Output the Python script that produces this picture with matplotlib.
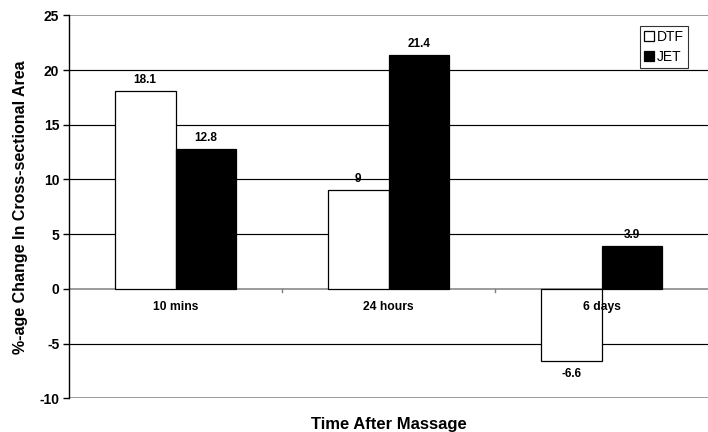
import matplotlib.pyplot as plt
import numpy as np

plt.rcParams['font.family'] = ['Liberation Sans', 'DejaVu Sans']

categories = ['10 mins', '24 hours', '6 days']
dtf = [18.1, 9, -6.6]
jet = [12.8, 21.4, 3.9]
dtf_labels = ['18.1', '9', '-6.6']
jet_labels = ['12.8', '21.4', '3.9']
y_ticks = [-10, -5, 0, 5, 10, 15, 20, 25]

fig = plt.figure(figsize=(7.08, 4.32), dpi=100)
ax = fig.add_axes([69 / 708, 33.7 / 432, 639 / 708, 383 / 432])

x = np.arange(len(categories))
w = 0.286

# gridlines
for t in y_ticks:
    if t in (25, 0, -10):
        ax.axhline(t, color='#808080', lw=1.1, zorder=1)
    else:
        ax.axhline(t, color='black', lw=0.85, zorder=1)

ax.bar(x - w / 2, dtf, w, color='white', edgecolor='black', lw=0.9, label='DTF', zorder=2)
ax.bar(x + w / 2, jet, w, color='black', edgecolor='black', lw=0.9, label='JET', zorder=2)

for i in range(len(categories)):
    off = 1.0 if dtf[i] >= 0 else -1.2
    ax.text(x[i] - w / 2, dtf[i] + off, dtf_labels[i], ha='center', va='center',
            fontsize=8.5, fontweight='bold', zorder=3)
    ax.text(x[i] + w / 2, jet[i] + 1.0, jet_labels[i], ha='center', va='center',
            fontsize=8.5, fontweight='bold', zorder=3)
    ax.text(x[i], -1.65, categories[i], ha='center', va='center',
            fontsize=8.7, fontweight='bold', zorder=3)

ax.set_xlim(-0.5, 2.5)
ax.set_ylim(-10, 25)
ax.set_yticks(y_ticks)
ax.set_yticklabels([str(t) for t in y_ticks], fontsize=10, fontweight='bold')
ax.tick_params(axis='y', length=4, width=1, pad=3)

ax.set_xticks([])
for b in [0.5, 1.5]:
    ax.plot([b, b], [0, -0.3], color='#808080', lw=1, zorder=1)

for s in ['top', 'right', 'bottom']:
    ax.spines[s].set_visible(False)
ax.spines['left'].set_linewidth(1.0)

ax.set_ylabel('%-age Change In Cross-sectional Area', fontsize=11.5, fontweight='bold', labelpad=8)
fig.text(389 / 708, 7 / 432, 'Time After Massage', ha='center', va='center',
         fontsize=12, fontweight='bold')

leg = ax.legend(loc='upper right', fontsize=10, frameon=True, fancybox=False,
                handlelength=0.7, handleheight=0.7, handletextpad=0.2, borderpad=0.3,
                labelspacing=0.4, borderaxespad=0)
leg.set_bbox_to_anchor((688 / 708, 406 / 432), transform=fig.transFigure)
leg.get_frame().set_edgecolor('black')
leg.get_frame().set_linewidth(0.8)

fig.savefig('out.png', dpi=100)
